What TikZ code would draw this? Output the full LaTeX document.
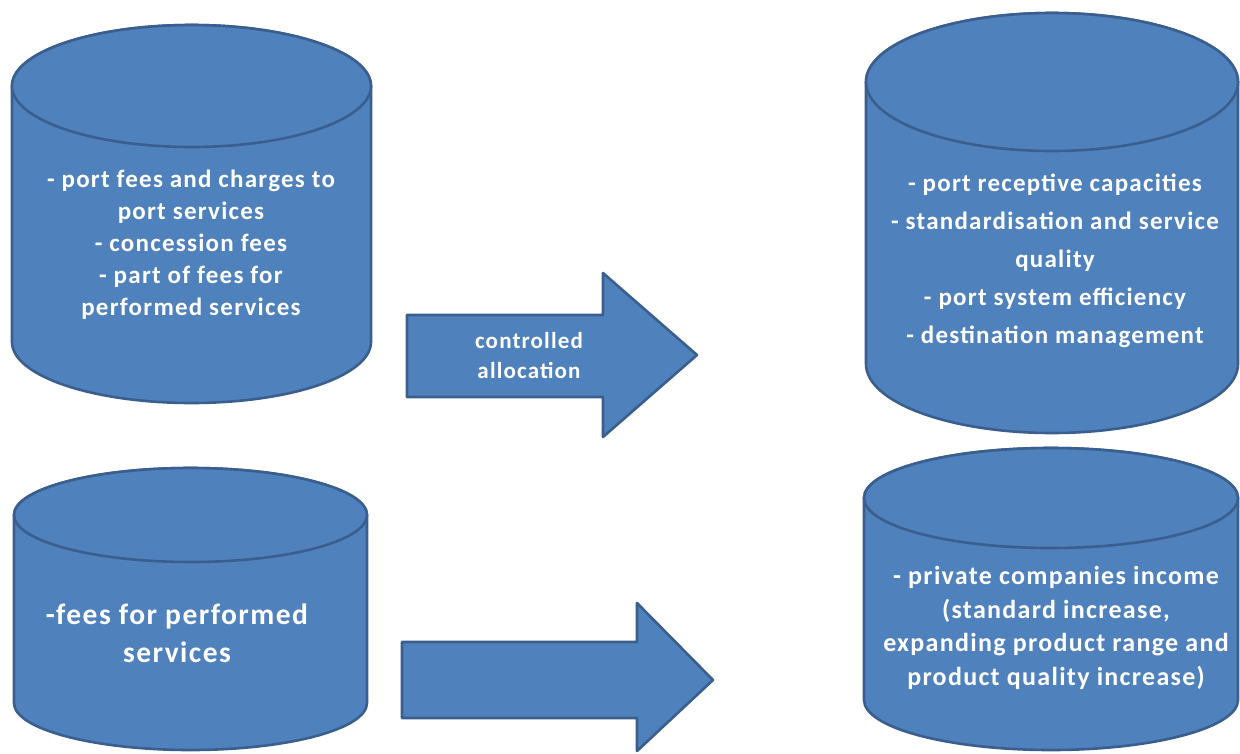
\documentclass[tikz,border=0pt]{standalone}
\usepackage{fontspec}
\setmainfont{Carlito}[LetterSpace=5]
\definecolor{cylfill}{HTML}{4F81BD}
\definecolor{cylline}{HTML}{3A5F8E}
\tikzset{
  shapeline/.style={draw=cylline, line width=2.6pt, fill=cylfill, line join=round},
  cyltext/.style={text=white, align=center, font=\bfseries\fontsize{25}{32}\selectfont, inner sep=0pt},
  arrtext/.style={text=white, align=center, font=\bfseries\fontsize{23}{30}\selectfont, inner sep=0pt}
}
% cylinder: #1 left, #2 right, #3 top-centre y, #4 bottom-centre y, #5 ry
\newcommand{\mycyl}[5]{%
  \path[shapeline] (#1,#3) -- (#1,#4) arc[start angle=180, end angle=0, x radius={(#2-#1)/2}, y radius=#5] -- (#2,#3) arc[start angle=360, end angle=180, x radius={(#2-#1)/2}, y radius=#5] -- cycle;
  \path[shapeline] ({(#1+#2)/2},#3) ellipse[x radius={(#2-#1)/2}, y radius=#5];
}
\begin{document}
\begin{tikzpicture}[x=1pt,y=-1pt]
\useasboundingbox (0,0) rectangle (1240,753);
\fill[white] (0,0) rectangle (1240,753);
% cylinders
\mycyl{12}{371}{86}{342}{61}
\mycyl{866}{1238}{82}{364}{69}
\mycyl{14}{367}{515}{703}{47}
\mycyl{864}{1238}{498}{700}{50}
% arrows
\path[shapeline] (407,315) -- (603,315) -- (603,273) -- (697,355) -- (603,437) -- (603,397) -- (407,397) -- cycle;
\path[shapeline] (402,642) -- (637,642) -- (637,603) -- (713,680) -- (637,751) -- (637,718) -- (402,718) -- cycle;
% texts
\node[cyltext] (t1) at (191,245) {- port fees and charges to\\port services\\- concession fees\\- part of fees for\\performed services};
\node[cyltext, font=\bfseries\fontsize{25}{38}\selectfont] (t2) at (1055,261) {- port receptive capacities\\- standardisation and service\\quality\\- port system efficiency\\- destination management};
\node[cyltext, font=\bfseries\fontsize{29.5}{38}\selectfont] (t3) at (177,633) {-fees for performed\\services};
\node[cyltext, font=\bfseries\fontsize{26}{33.5}\selectfont] (t4) at (1056,628) {- private companies income\\(standard increase,\\expanding product range and\\product quality increase)};
\node[arrtext] (a1) at (529,356) {controlled\\allocation};
\end{tikzpicture}
\end{document}
